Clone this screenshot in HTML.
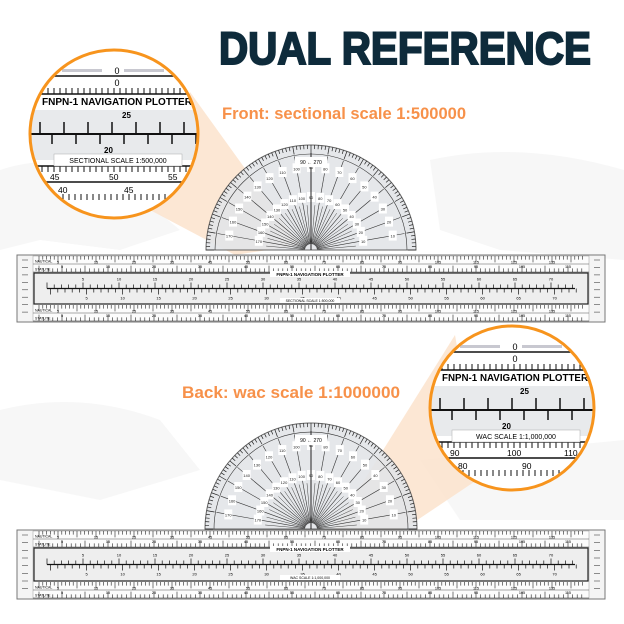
<!DOCTYPE html>
<html><head><meta charset="utf-8">
<style>
html,body{margin:0;padding:0;background:#fff;}
svg{display:block;font-family:"Liberation Sans",sans-serif;}
</style></head>
<body>
<svg id="s" width="624" height="624" viewBox="0 0 624 624" xmlns="http://www.w3.org/2000/svg">
<rect width="624" height="624" fill="#fff"/>
<g fill="#f7f7f7">
<path d="M0 170 Q60 150 120 180 L180 230 L120 250 L40 240 L0 250Z"/>
<path d="M430 160 Q520 140 624 170 L624 260 L500 250 L440 230Z"/>
<path d="M0 410 Q80 390 160 420 L200 470 L100 500 L0 480Z"/>
<path d="M420 460 L624 440 L624 520 L460 520Z"/>
</g>
<text x="219" y="64" font-size="45" font-weight="bold" fill="#0e2b3b" stroke="#0e2b3b" stroke-width="2" textLength="372" lengthAdjust="spacingAndGlyphs">DUAL REFERENCE</text>
<text x="222" y="119" font-size="17" font-weight="bold" fill="#f7914a" textLength="244" lengthAdjust="spacingAndGlyphs">Front:  sectional  scale  1:500000</text>
<text x="182" y="398" font-size="17" font-weight="bold" fill="#f7914a" textLength="218" lengthAdjust="spacingAndGlyphs">Back:  wac  scale  1:1000000</text>
<g id="beams" fill="#fbe3cc" opacity="0.85">
<polygon points="150,210 190,92 300,245 235,255"/>
<polygon points="480,478 455,335 330,535 395,535"/>
</g>
<g id="prot"></g>
<g id="rul"></g>
<g id="circ"></g>
</svg>
<script>
const NS="http://www.w3.org/2000/svg";
function el(p,t,a,txt){const e=document.createElementNS(NS,t);for(const k in a)e.setAttribute(k,a[k]);if(txt!==undefined)e.textContent=txt;p.appendChild(e);return e;}
const prot=document.getElementById('prot'),rul=document.getElementById('rul'),circ=document.getElementById('circ');
function protractor(cx,cy,r){
  el(prot,'path',{d:`M${cx-r} ${cy} A${r} ${r} 0 0 1 ${cx+r} ${cy}Z`,fill:'#e3e5e8',stroke:'#555','stroke-width':1,opacity:0.9});
  for(let a=0;a<=180;a+=2){const t=a*Math.PI/180,l=a%10==0?8:4;
    el(prot,'line',{x1:cx+Math.cos(t)*r,y1:cy-Math.sin(t)*r,x2:cx+Math.cos(t)*(r-l),y2:cy-Math.sin(t)*(r-l),stroke:'#222','stroke-width':0.7});}
  el(prot,'path',{d:`M${cx-r+9} ${cy} A${r-9} ${r-9} 0 0 1 ${cx+r-9} ${cy}`,fill:'none',stroke:'#333','stroke-width':0.6});
  for(let a=10;a<180;a+=10){const t=a*Math.PI/180;
    el(prot,'line',{x1:cx+Math.cos(t)*6,y1:cy-Math.sin(t)*6,x2:cx+Math.cos(t)*(r-10),y2:cy-Math.sin(t)*(r-10),stroke:'#333','stroke-width':0.6});
    for(const rr of [r-22,r-52]){const x=cx+Math.cos(t)*rr,y=cy-Math.sin(t)*rr;
      el(prot,'rect',{x:x-4,y:y-5,width:8,height:10,fill:'#fff'});
      el(prot,'text',{x:x,y:y+2,'font-size':4,'text-anchor':'middle',fill:'#222'},a);}}
  for(let a=5;a<180;a+=10){const t=a*Math.PI/180;
    el(prot,'line',{x1:cx+Math.cos(t)*6,y1:cy-Math.sin(t)*6,x2:cx+Math.cos(t)*(r-60),y2:cy-Math.sin(t)*(r-60),stroke:'#444','stroke-width':0.5});}
  el(prot,'line',{x1:cx,y1:cy,x2:cx,y2:cy-r+8,stroke:'#222','stroke-width':1});
  el(prot,'rect',{x:cx-16,y:cy-r+12,width:32,height:10,fill:'#fff'});
  el(prot,'text',{x:cx,y:cy-r+19,'font-size':5,'text-anchor':'middle'},'90 ← 270');
}
protractor(311,250,105);
protractor(311,529,106);
function scaleRow(x1,x2,y,h,step,lab,up){
  let n=0;for(let x=x1+6;x<x2-4;x+=step,n++){const l=n%5==0?h*0.8:h*0.45;
    el(rul,'line',{x1:x,y1:up?y:y+h,x2:x,y2:up?y+l:y+h-l,stroke:'#222','stroke-width':0.6});
    if(n%10==5)el(rul,'text',{x:x,y:up?y+h-0.5:y+4,'font-size':3.8,'text-anchor':'middle'},lab?n:'');}
}
function ruler(y,h,sub){
  const x1=17,x2=605;
  el(rul,'rect',{x:x1,y:y,width:x2-x1,height:h,fill:'#f4f4f4',stroke:'#777','stroke-width':1});
  el(rul,'rect',{x:x1+16,y:y+1,width:x2-x1-32,height:h-2,fill:'#fcfcfc',stroke:'#999','stroke-width':0.5});
  const rh=8;
  for(let i=0;i<4;i++){const yy=i<2?y+1+i*rh:y+h-1-(4-i)*rh;
    el(rul,'line',{x1:x1+16,y1:yy+rh,x2:x2-16,y2:yy+rh,stroke:'#555','stroke-width':0.5});
    scaleRow(x1+16,x2-16,yy,rh,i%2?4.6:3.8,true,i==0||i==2);
    el(rul,'text',{x:x1+18,y:yy+rh-1.5,'font-size':3.5},i%2==0?'NAUTICAL':'STATUTE');}
  const my=y+1+2*rh, mh=h-2-4*rh;
  el(rul,'rect',{x:x1+17,y:my+1,width:x2-x1-34,height:mh-2,fill:'#eeeeee',stroke:'#222','stroke-width':1.2});
  const cy=my+mh/2;
  el(rul,'line',{x1:x1+30,y1:cy,x2:x2-30,y2:cy,stroke:'#111','stroke-width':1.2});
  let n=0;for(let x=x1+30;x<=x2-30;x+=7.2,n++){
    el(rul,'line',{x1:x,y1:cy-(n%5==0?6:4),x2:x,y2:cy,stroke:'#111','stroke-width':0.7});
    el(rul,'line',{x1:x+3.6,y1:cy,x2:x+3.6,y2:cy+(n%5==0?6:4),stroke:'#111','stroke-width':0.7});
    if(n%5==0&&n>0){el(rul,'text',{x:x,y:cy-8,'font-size':4,'text-anchor':'middle'},n);el(rul,'text',{x:x+3.6,y:cy+11,'font-size':4,'text-anchor':'middle'},n);}}
  el(rul,'rect',{x:270,y:my-1,width:80,height:6,fill:'#fff'});
  el(rul,'text',{x:310,y:my+4,'font-size':4.5,'font-weight':'bold','text-anchor':'middle'},'FNPN-1 NAVIGATION PLOTTER');
  el(rul,'rect',{x:280,y:my+mh-7,width:60,height:5,fill:'#fff'});
  el(rul,'text',{x:310,y:my+mh-3,'font-size':3.5,'text-anchor':'middle'},sub);
  for(let x of [x1+2,x2-14]){for(let k=0;k<8;k++)el(rul,'line',{x1:x+3,y1:y+5+k*h/9,x2:x+9,y2:y+5+k*h/9,stroke:'#444','stroke-width':0.6});}
}
ruler(255,67,'SECTIONAL SCALE 1:500,000');
ruler(530,69,'WAC SCALE 1:1,000,000');
function circle(cx,cy,r,id,big,sub,l1,l2){
  const cp=el(circ,'clipPath',{id:id});el(cp,'circle',{cx:cx,cy:cy,r:r});
  const g=el(circ,'g',{'clip-path':`url(#${id})`});
  el(g,'rect',{x:cx-r,y:cy-r,width:2*r,height:2*r,fill:'#fff'});
  const t=cy-r;
  el(g,'rect',{x:cx-r,y:t+60,width:2*r,height:50,fill:'#e8eaec'});
  el(g,'line',{x1:cx-r,y1:t+44,x2:cx+r,y2:t+44,stroke:'#111','stroke-width':1.5});
  el(g,'line',{x1:cx-r,y1:t+26,x2:cx+r,y2:t+26,stroke:'#111','stroke-width':1.5});
  el(g,'line',{x1:cx-r,y1:t+116,x2:cx+r,y2:t+116,stroke:'#111','stroke-width':1.5});
  el(g,'line',{x1:cx-r,y1:t+132,x2:cx+r,y2:t+132,stroke:'#111','stroke-width':1.5});
  for(let x=cx-r;x<cx+r;x+=6){el(g,'line',{x1:x,y1:t+116,x2:x,y2:t+122,stroke:'#111','stroke-width':1});el(g,'line',{x1:x+3,y1:t+144,x2:x+3,y2:t+150,stroke:'#111','stroke-width':1});el(g,'line',{x1:x,y1:t+38,x2:x,y2:t+44,stroke:'#111','stroke-width':1});}
  const my=t+84;
  el(g,'line',{x1:cx-r,y1:my,x2:cx+r,y2:my,stroke:'#111','stroke-width':2});
  for(let x=cx-r+10;x<cx+r;x+=24){el(g,'line',{x1:x,y1:my-12,x2:x,y2:my,stroke:'#111','stroke-width':1.5});el(g,'line',{x1:x+12,y1:my,x2:x+12,y2:my+10,stroke:'#111','stroke-width':1.5});}
  el(g,'rect',{x:cx-52,y:t+19,width:40,height:3,fill:'#c8c8d0'});el(g,'rect',{x:cx+10,y:t+19,width:40,height:3,fill:'#c8c8d0'});
  el(g,'text',{x:cx+3,y:t+24,'font-size':9,'text-anchor':'middle'},'0');
  el(g,'text',{x:cx+3,y:t+36,'font-size':9,'text-anchor':'middle'},'0');
  el(g,'text',{x:cx-r+12,y:t+55,'font-size':10.5,'font-weight':'bold',textLength:2*r-18,lengthAdjust:'spacingAndGlyphs'},'FNPN-1 NAVIGATION PLOTTER');
  el(g,'text',{x:cx+8,y:t+68,'font-size':8,'font-weight':'bold'},big[0]);
  el(g,'text',{x:cx-10,y:t+103,'font-size':8,'font-weight':'bold'},big[1]);
  el(g,'rect',{x:cx-60,y:t+104,width:128,height:12,fill:'#fff',stroke:'#aaa','stroke-width':0.5});
  el(g,'text',{x:cx+4,y:t+113,'font-size':7,'text-anchor':'middle'},sub);
  el(g,'text',{x:cx-r+20,y:t+130,'font-size':8.5},l1[0]);el(g,'text',{x:cx-5,y:t+130,'font-size':8.5},l1[1]);el(g,'text',{x:cx+r-30,y:t+130,'font-size':8.5},l1[2]);
  el(g,'text',{x:cx-r+28,y:t+143,'font-size':8.5},l2[0]);el(g,'text',{x:cx+10,y:t+143,'font-size':8.5},l2[1]);
  el(circ,'circle',{cx:cx,cy:cy,r:r,fill:'none',stroke:'#f7941d','stroke-width':3});
}
circle(114,134,84,'c1',['25','20'],'SECTIONAL SCALE 1:500,000',['45','50','55'],['40','45']);
circle(512,408,82,'c2',['25','20'],'WAC SCALE 1:1,000,000',['90','100','110'],['80','90']);
</script>
</body></html>
